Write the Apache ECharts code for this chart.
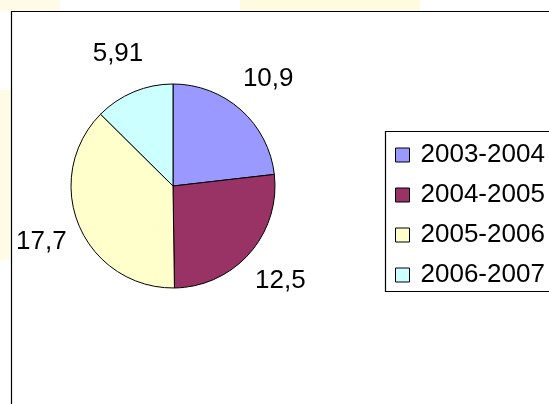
<!DOCTYPE html>
<html>
<head>
<meta charset="utf-8">
<script src="https://cdn.jsdelivr.net/npm/echarts@6/dist/echarts.min.js"></script>
<style>
html,body{margin:0;padding:0;background:#fff;}
#chart{width:549px;height:404px;}
</style>
</head>
<body>
<div id="chart"></div>
<script>
const categories = ['2003-2004', '2004-2005', '2005-2006', '2006-2007'];
const values = [10.9, 12.5, 17.7, 5.91];
const sliceColors = ['#9999FF', '#993366', '#FFFFCC', '#CCFFFF'];

const FONT = '"Liberation Sans", Arial, sans-serif';
const chart = echarts.init(document.getElementById('chart'), null, {renderer: 'canvas'});

const pieData = categories.map((c, i) => ({name: c, value: values[i], itemStyle: {color: sliceColors[i]}}));
const labelData = categories.map((c, i) => ({name: c, value: values[i]}));

chart.setOption({
  animation: false,
  backgroundColor: '#ffffff',
  graphic: [
    {type: 'rect', z: -10, silent: true, shape: {x: 0, y: 0, width: 60, height: 11}, style: {fill: '#fffbe6'}},
    {type: 'rect', z: -10, silent: true, shape: {x: 240, y: 0, width: 180, height: 11}, style: {fill: '#fffbe0'}},
    {type: 'rect', z: -10, silent: true, shape: {x: 0, y: 90, width: 11, height: 170}, style: {fill: '#fffbe4'}},
    {type: 'rect', z: -5, silent: true, shape: {x: 11.5, y: 11.5, width: 700, height: 600},
      style: {fill: '#ffffff', stroke: '#000000', lineWidth: 1.2}},
    {type: 'rect', z: -4, silent: true, shape: {x: 385.5, y: 131.5, width: 300, height: 160},
      style: {fill: '#ffffff', stroke: '#000000', lineWidth: 1.2}}
  ],
  legend: {
    orient: 'vertical',
    left: 395,
    top: 142,
    padding: 0,
    itemWidth: 14,
    itemHeight: 14,
    itemGap: 14,
    icon: 'rect',
    selectedMode: false,
    data: categories,
    itemStyle: {borderColor: '#000', borderWidth: 1},
    textStyle: {fontFamily: FONT, fontSize: 26, color: '#000', lineHeight: 26, padding: [0, 0, 0, 6]}
  },
  series: [
    {
      type: 'pie',
      center: [173, 186],
      radius: [0, 102],
      startAngle: 90,
      clockwise: true,
      silent: true,
      label: {show: false},
      labelLine: {show: false},
      itemStyle: {borderColor: '#000', borderWidth: 1},
      emphasis: {disabled: true},
      data: pieData
    },
    {
      type: 'pie',
      center: [173, 186],
      radius: [102, 178],
      startAngle: 90,
      clockwise: true,
      silent: true,
      itemStyle: {color: 'rgba(0,0,0,0)', borderWidth: 0},
      label: {
        show: true,
        position: 'inside',
        fontFamily: FONT,
        fontSize: 26,
        color: '#000',
        formatter: p => String(p.value).replace('.', ',')
      },
      labelLine: {show: false},
      emphasis: {disabled: true},
      data: labelData
    }
  ]
});
</script>
</body>
</html>
